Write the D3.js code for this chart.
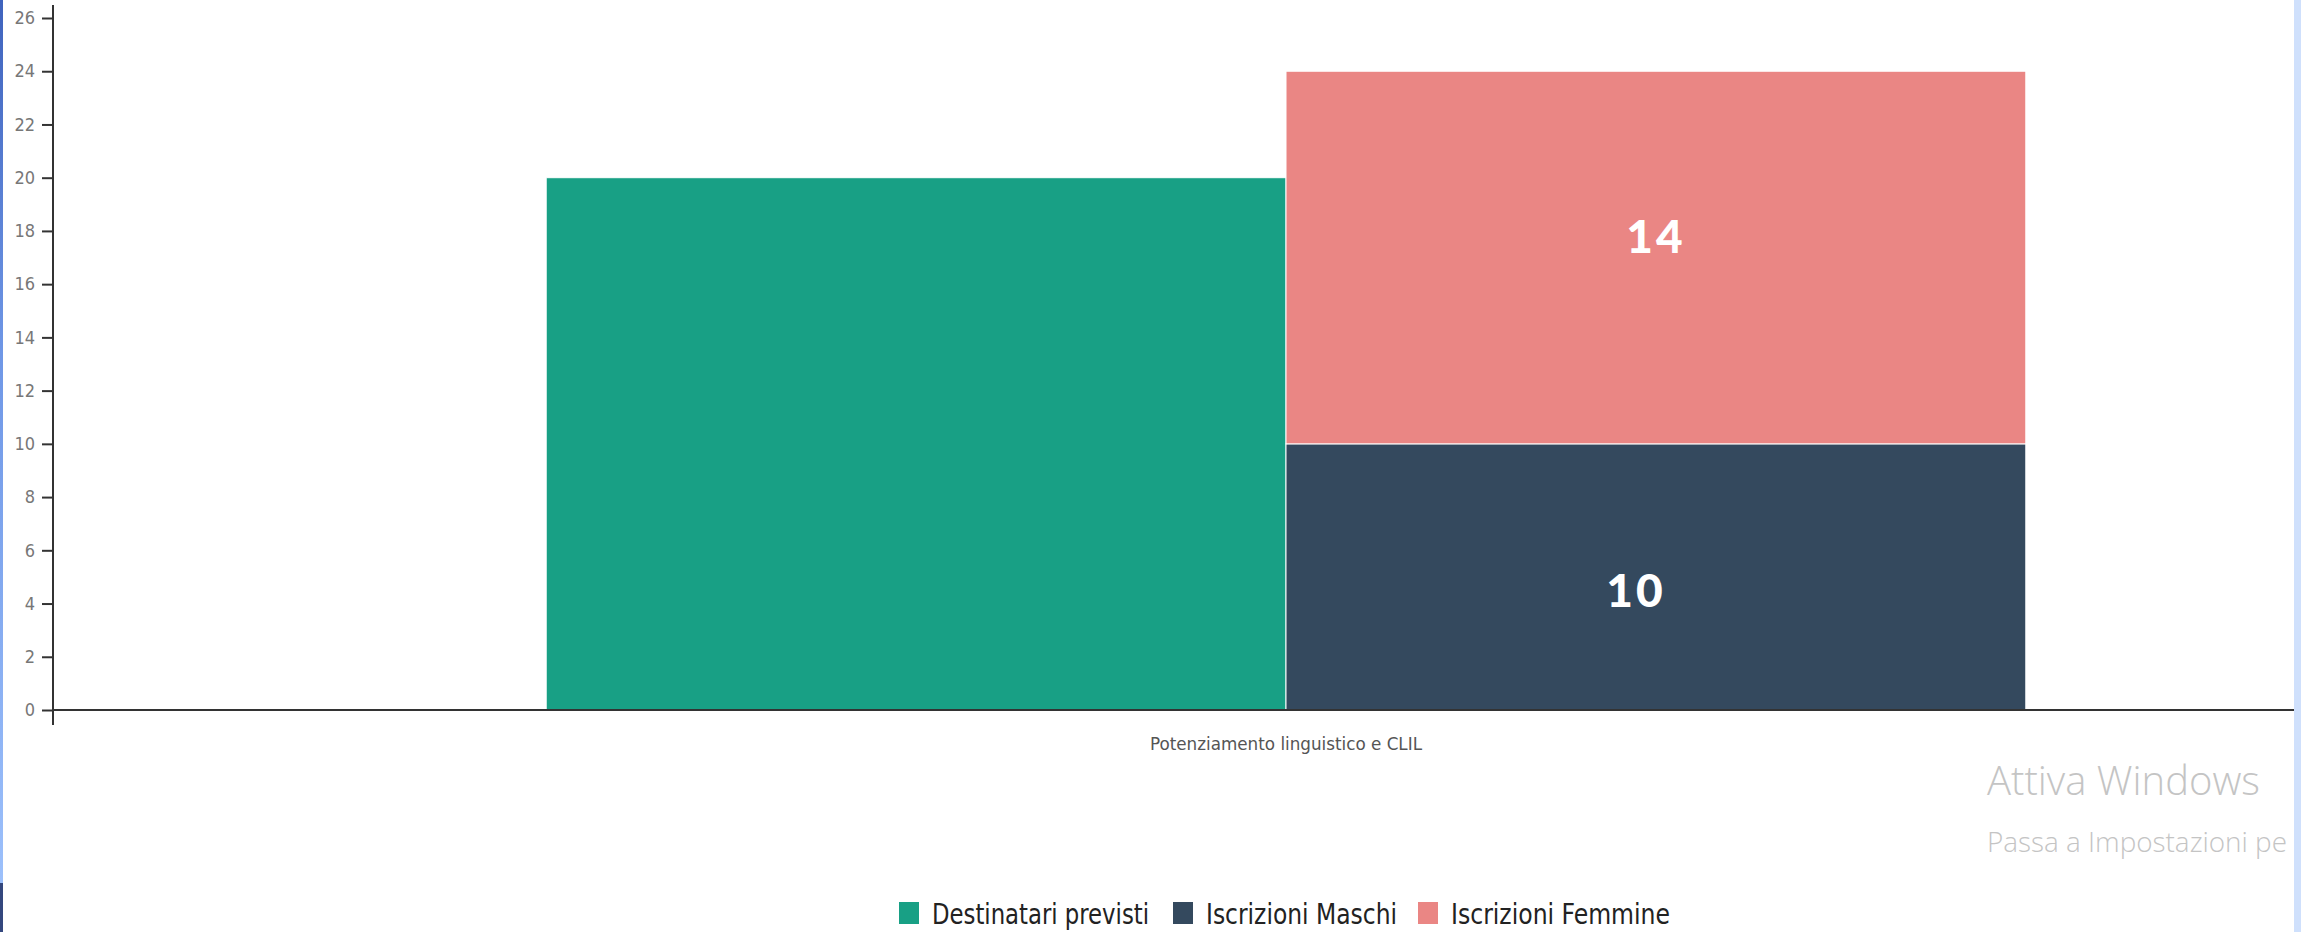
<!DOCTYPE html>
<html>
<head>
<meta charset="utf-8">
<script src="https://cdn.jsdelivr.net/npm/d3@7"></script>
<style>
  html, body { margin: 0; padding: 0; background: #fff; overflow: hidden; }
  svg { display: block; }
</style>
</head>
<body>
<svg id="chart" width="2301" height="932"></svg>
<script>
// ---- data ----
const categories = ["Potenziamento linguistico e CLIL"];
const destinatari = [20];
const maschi = [10];
const femmine = [14];
const seriesNames = ["Destinatari previsti", "Iscrizioni Maschi", "Iscrizioni Femmine"];
const seriesColors = ["#18a085", "#34495e", "#ea8684"];
const yTicks = [0, 2, 4, 6, 8, 10, 12, 14, 16, 18, 20, 22, 24, 26];

const svg = d3.select("#chart");
const W = 2301, H = 932;

// ---- scales ----
const y = d3.scaleLinear().domain([0, 26]).range([710, 18]);
const x0 = d3.scaleBand().domain(categories).range([53, 2519]).padding(0.25);
const x1 = d3.scaleBand().domain(["dest", "iscr"]).range([0, x0.bandwidth()]);

const narrow = "'DejaVu Sans Condensed', 'Liberation Sans Narrow', 'Roboto', sans-serif";

// ---- bars ----
const g = svg.append("g");
categories.forEach((c, i) => {
  g.append("rect")
    .attr("x", x0(c) + x1("dest"))
    .attr("y", y(destinatari[i]))
    .attr("width", x1.bandwidth())
    .attr("height", y(0) - y(destinatari[i]))
    .attr("fill", seriesColors[0])
    .attr("stroke", "#fff").attr("stroke-width", 1);
  g.append("rect")
    .attr("x", x0(c) + x1("iscr"))
    .attr("y", y(maschi[i]))
    .attr("width", x1.bandwidth())
    .attr("height", y(0) - y(maschi[i]))
    .attr("fill", seriesColors[1])
    .attr("stroke", "#fff").attr("stroke-width", 1);
  g.append("rect")
    .attr("x", x0(c) + x1("iscr"))
    .attr("y", y(maschi[i] + femmine[i]))
    .attr("width", x1.bandwidth())
    .attr("height", y(maschi[i]) - y(maschi[i] + femmine[i]))
    .attr("fill", seriesColors[2])
    .attr("stroke", "#fff").attr("stroke-width", 1);

  const cx = x0(c) + x1("iscr") + x1.bandwidth() / 2;
  const lblStyle = s => s
    .attr("text-anchor", "middle")
    .attr("fill", "#fff")
    .attr("font-family", "Lato, 'Open Sans', sans-serif")
    .attr("font-weight", 900)
    .attr("font-size", 46)
    .attr("letter-spacing", 3);
  g.append("text")
    .attr("x", cx - 20)
    .attr("y", (y(0) + y(maschi[i])) / 2 + 30)
    .text(maschi[i]).call(lblStyle);
  g.append("text")
    .attr("x", cx)
    .attr("y", (y(maschi[i]) + y(maschi[i] + femmine[i])) / 2 - 5)
    .text(femmine[i]).call(lblStyle);
});

// ---- y axis ----
const yAxis = svg.append("g")
  .attr("transform", "translate(53,0)")
  .call(d3.axisLeft(y).tickValues(yTicks).tickSize(11).tickPadding(7).tickSizeOuter(0));
yAxis.select(".domain").remove();
yAxis.selectAll(".tick line").attr("stroke", "#333").attr("stroke-width", 2);
yAxis.selectAll(".tick text")
  .attr("fill", "#777")
  .attr("font-family", narrow)
  .attr("font-size", 18);
svg.append("line")
  .attr("x1", 53).attr("x2", 53).attr("y1", 5).attr("y2", 725)
  .attr("stroke", "#333").attr("stroke-width", 2);

// ---- x axis ----
svg.append("line")
  .attr("x1", 53).attr("x2", W).attr("y1", y(0)).attr("y2", y(0))
  .attr("stroke", "#333").attr("stroke-width", 2);
svg.append("g").selectAll("text").data(categories).join("text")
  .attr("x", d => x0(d) + x0.bandwidth() / 2)
  .attr("y", 750)
  .attr("text-anchor", "middle")
  .attr("fill", "#555")
  .attr("font-family", narrow)
  .attr("font-size", 18)
  .attr("textLength", 272)
  .attr("lengthAdjust", "spacingAndGlyphs")
  .text(d => d);

// ---- legend ----
const legendX = [899, 1173, 1418];
const legendW = [217, 191, 219];
const leg = svg.append("g");
seriesNames.forEach((n, i) => {
  leg.append("rect")
    .attr("x", legendX[i]).attr("y", 902)
    .attr("width", 20).attr("height", 22)
    .attr("fill", seriesColors[i]);
  leg.append("text")
    .attr("x", legendX[i] + 33).attr("y", 924)
    .attr("fill", "#222")
    .attr("font-family", narrow)
    .attr("font-size", 28)
    .attr("textLength", legendW[i])
    .attr("lengthAdjust", "spacingAndGlyphs")
    .text(n);
});

// ---- watermark ----
svg.append("text")
  .attr("x", 1987).attr("y", 795)
  .attr("fill", "#c4c4c4")
  .attr("font-family", "'Open Sans', 'Noto Sans', sans-serif")
  .attr("font-weight", 300)
  .attr("font-size", 40)
  .text("Attiva Windows");
svg.append("text")
  .attr("x", 1987).attr("y", 852)
  .attr("fill", "#c4c4c4")
  .attr("font-family", "'Open Sans', 'Noto Sans', sans-serif")
  .attr("font-weight", 300)
  .attr("font-size", 28)
  .attr("textLength", 300)
  .attr("lengthAdjust", "spacingAndGlyphs")
  .text("Passa a Impostazioni pe");

// ---- screen borders ----
const defs = svg.append("defs");
const grad = defs.append("linearGradient").attr("id", "lb").attr("x1", 0).attr("x2", 0).attr("y1", 0).attr("y2", 1);
grad.append("stop").attr("offset", "0%").attr("stop-color", "#3f63bd");
grad.append("stop").attr("offset", "40%").attr("stop-color", "#6f97e6");
grad.append("stop").attr("offset", "100%").attr("stop-color", "#9cc0fb");
svg.append("rect").attr("x", 0).attr("y", 0).attr("width", 3).attr("height", 883).attr("fill", "url(#lb)");
svg.append("rect").attr("x", 0).attr("y", 883).attr("width", 3).attr("height", 49).attr("fill", "#34477e");
svg.append("rect").attr("x", 2294).attr("y", 0).attr("width", 7).attr("height", H).attr("fill", "#cfe0fc");
</script>
</body>
</html>
